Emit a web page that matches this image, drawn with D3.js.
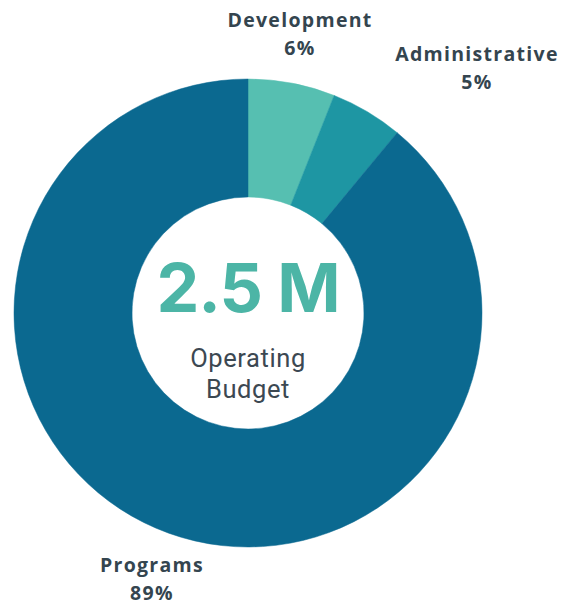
<!DOCTYPE html>
<html>
<head>
<meta charset="utf-8">
<script src="https://cdn.jsdelivr.net/npm/d3@7"></script>
<style>
  html, body { margin: 0; padding: 0; background: #ffffff; }
  svg { display: block; }
</style>
</head>
<body>
<svg id="chart" width="570" height="608"></svg>
<script>
// ---- data ----
const categories = ["Development", "Administrative", "Programs"];
const values = [6, 5, 89];
const percentLabels = ["6%", "5%", "89%"];
const colors = ["#56bfb1", "#1e96a3", "#0b6990"];
const centerValue = "2.5 M";
const centerCaption = ["Operating", "Budget"];

// ---- layout (not data) ----
const W = 570, H = 608;
const cx = 248, cy = 313;
const outerR = 234, innerR = 116;
const labelPos = [
  { x: 300, y: 27 },
  { x: 477, y: 61 },
  { x: 152, y: 572 }
];

const svg = d3.select("#chart");
const g = svg.append("g").attr("transform", `translate(${cx},${cy})`);

const data = categories.map((c, i) => ({ name: c, value: values[i], pct: percentLabels[i], color: colors[i] }));

const pie = d3.pie().sort(null).value(d => d.value);
const arc = d3.arc().innerRadius(innerR).outerRadius(outerR);

g.selectAll("path.slice")
  .data(pie(data))
  .join("path")
  .attr("class", "slice")
  .attr("d", arc)
  .attr("fill", d => d.data.color)
  .attr("stroke", d => d.data.color)
  .attr("stroke-width", 0.5);

// center text
g.append("text")
  .attr("x", 0)
  .attr("y", -1)
  .attr("text-anchor", "middle")
  .attr("font-family", "Inter, 'Open Sans', sans-serif")
  .attr("font-weight", 700)
  .attr("font-size", 68)
  .attr("letter-spacing", -1)
  .attr("fill", "#4cb5a6")
  .text(centerValue);

g.selectAll("text.caption")
  .data(centerCaption)
  .join("text")
  .attr("class", "caption")
  .attr("x", 0)
  .attr("y", (d, i) => 54 + i * 31)
  .attr("text-anchor", "middle")
  .attr("font-family", "Roboto, 'Open Sans', sans-serif")
  .attr("font-weight", 400)
  .attr("font-size", 25.5)
  .attr("letter-spacing", 0.6)
  .attr("fill", "#3c4852")
  .text(d => d);

// outside labels
const lab = svg.selectAll("g.label")
  .data(data)
  .join("g")
  .attr("class", "label")
  .attr("transform", (d, i) => `translate(${labelPos[i].x},${labelPos[i].y})`);

lab.append("text")
  .attr("text-anchor", "middle")
  .attr("font-family", "'Open Sans', sans-serif")
  .attr("font-weight", 700)
  .attr("font-size", 19.5)
  .attr("letter-spacing", 1.3)
  .attr("fill", "#34454f")
  .text(d => d.name);

lab.append("text")
  .attr("y", 28)
  .attr("text-anchor", "middle")
  .attr("font-family", "'Open Sans', sans-serif")
  .attr("font-weight", 700)
  .attr("font-size", 19.5)
  .attr("letter-spacing", 1.3)
  .attr("fill", "#34454f")
  .text(d => d.pct);
</script>
</body>
</html>
